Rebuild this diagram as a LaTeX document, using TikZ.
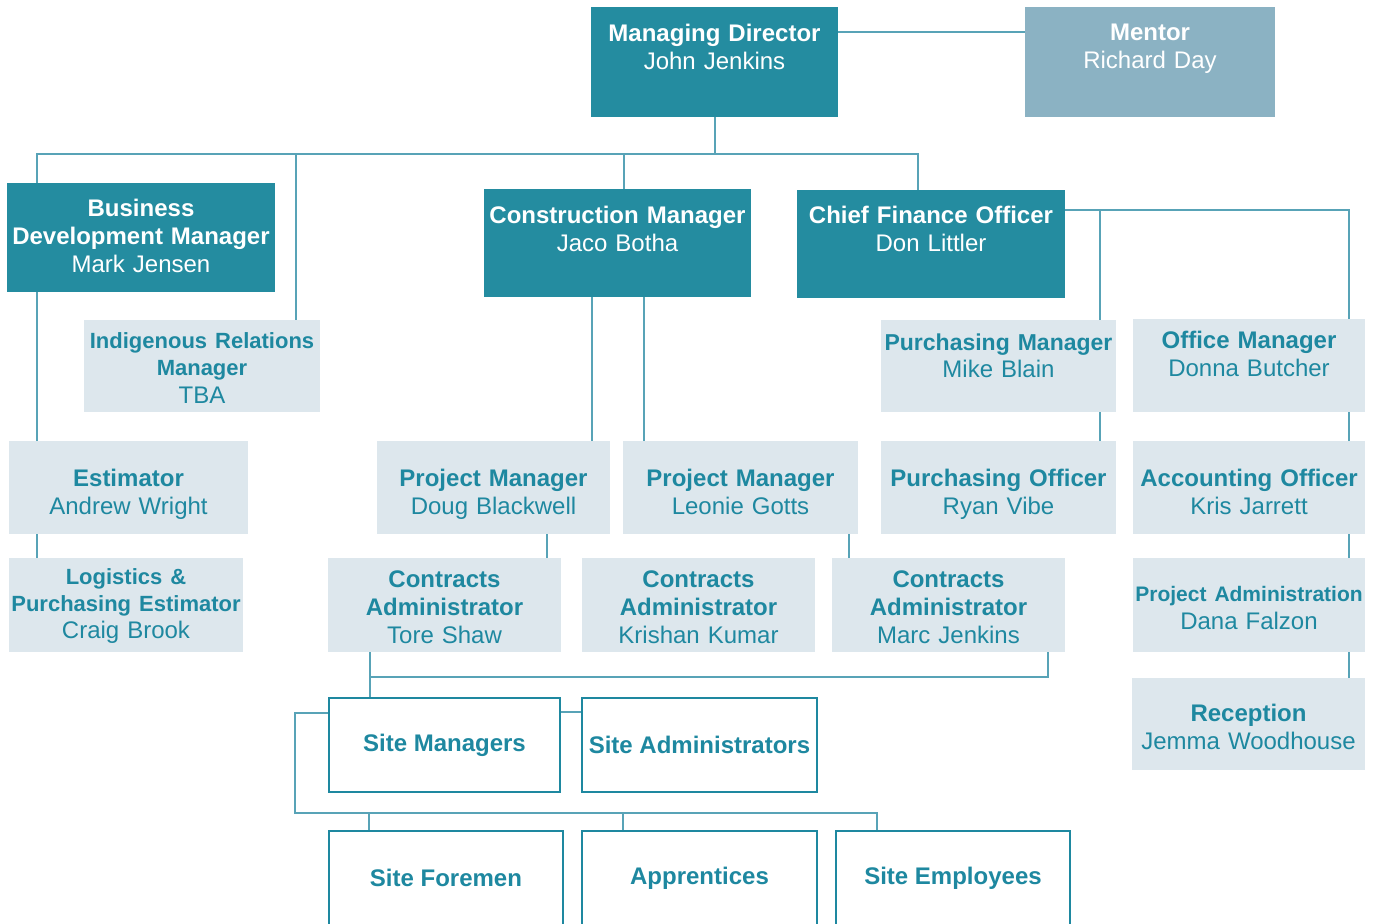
\documentclass[tikz,border=0pt]{standalone}
\usepackage{fontspec}
\setmainfont{Liberation Sans}
\usetikzlibrary{backgrounds}

\definecolor{tealdark}{RGB}{36,140,160}
\definecolor{mentorblue}{RGB}{139,178,195}
\definecolor{palebox}{RGB}{221,231,237}
\definecolor{tealtext}{RGB}{30,136,160}
\definecolor{linecol}{RGB}{88,163,183}

\newcommand{\smtitle}[2][11]{{\fontsize{#1}{13}\selectfont\bfseries #2}}

\tikzset{
  base/.style={inner sep=0pt, align=center, font=\fontsize{12}{14}\selectfont},
  dark/.style={base, fill=tealdark, text=white},
  mentorbox/.style={base, fill=mentorblue, text=white},
  pale/.style={base, fill=palebox, text=tealtext},
  outl/.style={base, draw=tealtext, line width=1.3pt, fill=white, text=tealtext},
  link/.style={draw=linecol, line width=1pt}
}

\begin{document}
\begin{tikzpicture}[x=0.5pt,y=-0.5pt]
\useasboundingbox (0,0) rectangle (1381,923);

% top
\node[dark, text width=123.5pt, text height=17.25pt, text depth=37.75pt] (md) at (714.5,62) {\textbf{Managing Director}\\John Jenkins};
\node[mentorbox, text width=125pt, text height=16.75pt, text depth=38.25pt] (mentor) at (1150,62) {\textbf{Mentor}\\Richard Day};

% second row
\node[dark, text width=134pt, text height=16.75pt, text depth=37.75pt] (bdm) at (141,237.5) {\textbf{Business}\\\textbf{Development Manager}\\Mark Jensen};
\node[dark, text width=133.5pt, text height=17.25pt, text depth=36.75pt] (cm) at (617.5,243) {\textbf{Construction Manager}\\Jaco Botha};
\node[dark, text width=134pt, text height=16.75pt, text depth=37.25pt] (cfo) at (931,244) {\textbf{Chief Finance Officer}\\Don Littler};

% left column
\node[pale, font=\fontsize{12}{13.75}\selectfont, text width=118pt, text height=14pt, text depth=32pt] (irm) at (202,366) {\smtitle{Indigenous Relations}\\\smtitle{Manager}\\TBA};
\node[pale, text width=119.5pt, text height=22.75pt, text depth=23.75pt] (est) at (128.5,487.5) {\textbf{Estimator}\\Andrew Wright};
\node[pale, font=\fontsize{12}{13.5}\selectfont, text width=117pt, text height=13pt, text depth=34pt] (log) at (126,605) {\smtitle{Logistics \&}\\\smtitle{Purchasing Estimator}\\Craig Brook};

% construction
\node[pale, text width=116.5pt, text height=22.75pt, text depth=23.75pt] (pm1) at (493.5,487.5) {\textbf{Project Manager}\\Doug Blackwell};
\node[pale, text width=117.5pt, text height=22.75pt, text depth=23.75pt] (pm2) at (740.5,487.5) {\textbf{Project Manager}\\Leonie Gotts};
\node[pale, text width=116.5pt, text height=14.75pt, text depth=32.25pt] (ca1) at (444.5,605) {\textbf{Contracts}\\\textbf{Administrator}\\Tore Shaw};
\node[pale, text width=116.5pt, text height=14.75pt, text depth=32.25pt] (ca2) at (698.5,605) {\textbf{Contracts}\\\textbf{Administrator}\\Krishan Kumar};
\node[pale, text width=116.5pt, text height=14.75pt, text depth=32.25pt] (ca3) at (948.5,605) {\textbf{Contracts}\\\textbf{Administrator}\\Marc Jenkins};

% site staff
\node[outl, minimum width=115.5pt, minimum height=47pt] (sm) at (444.5,745) {\textbf{Site Managers}};
\node[outl, minimum width=117.5pt, minimum height=47pt] (sa) at (699.5,745) {\textbf{Site Administrators}};
\node[outl, minimum width=117pt, minimum height=47pt] (sf) at (446,878) {\textbf{Site Foremen}};
\node[outl, minimum width=117.5pt, minimum height=47pt] (app) at (699.5,878) {\textbf{Apprentices}};
\node[outl, minimum width=117pt, minimum height=47pt] (se) at (953,878) {\textbf{Site Employees}};

% finance
\node[pale, font=\fontsize{12}{13.5}\selectfont, text width=117.5pt, text height=15pt, text depth=31pt] (purm) at (998.5,366) {\smtitle[11.5]{Purchasing Manager}\\Mike Blain};
\node[pale, text width=116pt, text height=14.75pt, text depth=31.75pt] (offm) at (1249,365.5) {\textbf{Office Manager}\\Donna Butcher};
\node[pale, text width=117.5pt, text height=22.75pt, text depth=23.75pt] (puro) at (998.5,487.5) {\textbf{Purchasing Officer}\\Ryan Vibe};
\node[pale, text width=116pt, text height=22.75pt, text depth=23.75pt] (acco) at (1249,487.5) {\textbf{Accounting Officer}\\Kris Jarrett};
\node[pale, text width=116pt, text height=21.5pt, text depth=25.5pt] (pa) at (1249,605) {\smtitle[10.5]{Project Administration}\\Dana Falzon};
\node[pale, text width=116.5pt, text height=21.75pt, text depth=24.25pt] (rec) at (1248.5,724) {\textbf{Reception}\\Jemma Woodhouse};

\coordinate (top) at (714.5,154);
\coordinate (cabus) at (370,677);
\coordinate (sbus) at (295,813);
\coordinate (finbus) at (1348.5,0);

\begin{pgfonlayer}{background}
\draw[link] ([yshift=-12.5pt]md.north east) -- ([yshift=-12.5pt]mentor.north west);
\draw[link] (md.south) -- (top);
\draw[link] ([xshift=14pt]est.north west) |- (top) -| ([xshift=-6.5pt]cfo.north);
\draw[link] ([xshift=-12pt]irm.north east) |- (top);
\draw[link] ([xshift=3.25pt]cm.north) |- (top);
\draw[link] ([xshift=14pt]est.south west) -- ([xshift=14pt]log.north west);

\draw[link] ([xshift=-9pt]pm1.north east) -- ([xshift=-9pt]pm1.north east |- cm.south);
\draw[link] ([xshift=10.5pt]pm2.north west) -- ([xshift=10.5pt]pm2.north west |- cm.south);
\draw[link] ([xshift=-7pt]ca1.north east) -- ([xshift=-7pt]ca1.north east |- pm1.south);
\draw[link] ([xshift=8.5pt]ca3.north west) -- ([xshift=8.5pt]ca3.north west |- pm2.south);

\draw[link] (cabus |- ca1.south) -- (cabus) -| ([xshift=-8.5pt]ca3.south east);
\draw[link] (cabus) -- (cabus |- sm.north);
\draw[link] ([yshift=-7.5pt]sm.north east) -- ([yshift=-7.5pt]sa.north west);
\draw[link] ([yshift=-8pt]sm.north west) -| (sbus) -| ([xshift=21pt]se.north west);
\draw[link] ([xshift=20.5pt]sf.north west) -- ([xshift=20.5pt]sf.north west |- sbus);
\draw[link] ([xshift=21pt]app.north west) -- ([xshift=21pt]app.north west |- sbus);

\draw[link] ([yshift=-10pt]cfo.north east) -| (finbus |- offm.north);
\draw[link] ([xshift=-8pt]purm.north east) |- ([yshift=-10pt]cfo.north east);
\draw[link] ([xshift=-8pt]purm.south east) -- ([xshift=-8pt]puro.north east);
\draw[link] (finbus |- offm.south) -- (finbus |- acco.north);
\draw[link] (finbus |- acco.south) -- (finbus |- pa.north);
\draw[link] (finbus |- pa.south) -- (finbus |- rec.north);
\end{pgfonlayer}
\end{tikzpicture}
\end{document}
